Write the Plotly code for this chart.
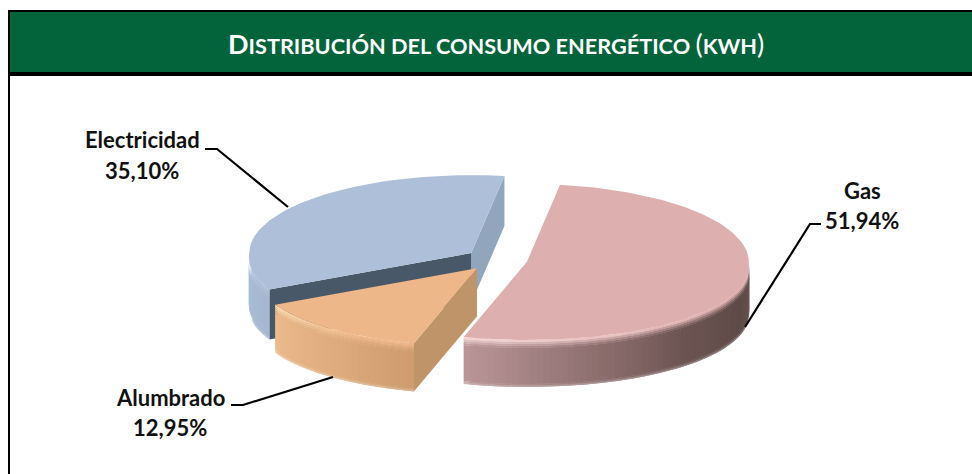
import math
import plotly.graph_objects as go

# ---- data ----
categories = ["Gas", "Alumbrado", "Electricidad"]
percentages = [51.94, 12.95, 35.10]
value_labels = ["51,94%", "12,95%", "35,10%"]
title_words = "Distribución del consumo energético (kWh)"

# ---- geometry of the 3D pie (pixel space of the page) ----
W, H = 972, 474
BASE_X, BASE_Y = 496.5, 259.6
RX, RY = 222.0, 78.0
PULL_X, PULL_Y = 31.0, 11.2
PERSPECTIVE = 0.06
DEPTHS = {"Gas": 47.0, "Alumbrado": 48.0, "Electricidad": 50.0}
FIRST_ANGLE = 8.6

TOP = {"Gas": (221, 175, 174), "Alumbrado": (238, 183, 137), "Electricidad": (174, 192, 217)}
SIDE = {
    "Gas": [(0.0, (186, 150, 152)), (0.25, (150, 118, 118)), (0.55, (108, 84, 82)), (0.8, (94, 74, 72)), (1.0, (104, 84, 80))],
    "Alumbrado": [(0.0, (236, 186, 140)), (0.5, (222, 172, 126)), (1.0, (205, 155, 110))],
    "Electricidad": [(0.0, (172, 190, 214)), (1.0, (166, 184, 208))],
}
HILITE = {"Gas": (244, 212, 212), "Alumbrado": (255, 222, 180), "Electricidad": (208, 222, 238)}
WALL_INNER = (72, 88, 104)
WALL_ELEC = (145, 165, 188)
WALL_ALUM = (190, 148, 104)


def rgb(c):
    return "rgb(%d,%d,%d)" % tuple(round(v) for v in c)


def mix(a, b, t):
    return tuple(a[i] + (b[i] - a[i]) * t for i in range(3))


def ramp(stops, t):
    for (t0, c0), (t1, c1) in zip(stops, stops[1:]):
        if t <= t1:
            return mix(c0, c1, (t - t0) / (t1 - t0))
    return stops[-1][1]


fig = go.Figure()


def poly(xs, ys, color):
    c = rgb(color)
    fig.add_trace(go.Scatter(x=list(xs) + [xs[0]], y=list(ys) + [ys[0]], mode="lines", fill="toself",
                             fillcolor=c, line=dict(width=0), hoverinfo="skip", showlegend=False))


def rim(cx, cy, deg):
    a = math.radians(deg)
    grow = 1 + PERSPECTIVE * max(0.0, -math.cos(a))
    return cx + RX * math.sin(a) * grow, cy - RY * math.cos(a)


def wall(cx, cy, deg, depth, color):
    x, y = rim(cx, cy, deg)
    poly([cx, x, x, cx], [cy, y, y + depth, cy + depth], color)


def side(cx, cy, a0, a1, name):
    """Outer cylinder wall between two angles; later strips overlap earlier ones so no seams show."""
    depth = DEPTHS[name]
    layers = [(0, 2, 0.0), (2, 4, 0.3), (4, 6, 0.6), (6, 8, 0.85), (8, depth - 3, 1.0), (depth - 3, depth - 1.5, 1.0), (depth - 1.5, depth, 1.0)]
    n = max(6, int(abs(a1 - a0) / 1.5))
    for i in range(n):
        d0 = a0 + (a1 - a0) * i / n
        d1 = a0 + (a1 - a0) * min(n, i + 2) / n
        dm = a0 + (a1 - a0) * (i + 1) / n
        x0, y0 = rim(cx, cy, d0)
        xm, ym = rim(cx, cy, dm)
        x1, y1 = rim(cx, cy, d1)
        base = ramp(SIDE[name], (i + 0.5) / n)
        fade = (i + 0.5) / n
        hi = mix(HILITE[name], TOP[name], min(1, fade * 1.5))
        for k in range(len(layers) - 1, -1, -1):
            z0, z1, t = layers[k]
            col = mix(hi, base, t)
            if k == 5:
                col = mix(base, (255, 255, 255), 0.06)
            if k == 6:
                col = mix(base, (255, 255, 255), 0.25)
            poly([x0, xm, x1, x1, xm, x0], [y0 + z0, ym + z0, y1 + z0, y1 + z1, ym + z1, y0 + z1], col)


def top(cx, cy, a0, a1, color):
    n = max(8, int(abs(a1 - a0) / 1.5))
    pts = [rim(cx, cy, a0 + (a1 - a0) * i / n) for i in range(n + 1)]
    poly([cx] + [p[0] for p in pts], [cy] + [p[1] for p in pts], color)


# angular extent of each slice comes from the percentages
total = sum(percentages)
angle = FIRST_ANGLE
spans = {}
centres = {}
for name, pct in zip(categories, percentages):
    sweep = 360.0 * pct / total
    mid = math.radians(angle + sweep / 2)
    spans[name] = (angle, angle + sweep)
    centres[name] = (BASE_X + PULL_X * math.sin(mid), BASE_Y - PULL_Y * math.cos(mid))
    angle += sweep

# Electricidad (rear)
e0, e1 = spans["Electricidad"]
cx, cy = centres["Electricidad"]
d = DEPTHS["Electricidad"]
wall(cx, cy, e1, d, WALL_ELEC)
wall(cx, cy, e0, d, WALL_INNER)
side(cx, cy, 270.0, e0, "Electricidad")
top(cx, cy, e0, e1, TOP["Electricidad"])

# Alumbrado
a0, a1 = spans["Alumbrado"]
cx, cy = centres["Alumbrado"]
side(cx, cy, a1, a0, "Alumbrado")
wall(cx, cy, a0, DEPTHS["Alumbrado"], WALL_ALUM)
top(cx, cy, a0, a1, TOP["Alumbrado"])

# Gas
g0, g1 = spans["Gas"]
cx, cy = centres["Gas"]
side(cx, cy, g1, 90.0, "Gas")
top(cx, cy, g0, g1, TOP["Gas"])

# ---- frame ----
shapes = [
    dict(type="rect", x0=8, x1=W, y0=10, y1=76, fillcolor="#000000", line_width=0, layer="below"),
    dict(type="rect", x0=8, x1=10, y0=10, y1=H, fillcolor="#000000", line_width=0, layer="below"),
    dict(type="rect", x0=10, x1=W, y0=12, y1=72, fillcolor="#03633A", line_width=0, layer="below"),
]
# ---- leader lines ----
leaders = [
    [(205, 149), (217, 149), (288, 207)],
    [(821, 224), (810, 224), (745, 327)],
    [(231, 405), (243, 405), (333, 377)],
]
for pts in leaders:
    path = "M" + " L".join("%g,%g" % p for p in pts)
    shapes.append(dict(type="path", path=path, line=dict(color="#000000", width=2.2), layer="above"))

FONT = "Lato"
label_pos = {"Electricidad": (142, 139, 170), "Gas": (862, 190, 220), "Alumbrado": (170, 397, 427)}
annotations = []
for name, lab in zip(categories, value_labels):
    x, y0, y1 = label_pos[name]
    for txt, y in ((name, y0), (lab, y1)):
        annotations.append(dict(x=x, y=y, xref="x", yref="y", showarrow=False,
                                text="<b>%s</b>" % txt,
                                font=dict(family=FONT, size=22, color="#111111")))


def small_caps(s, big=27, small=21.7):
    out = []
    for ch in s:
        if ch.isupper():
            out.append('<b><span style="font-size:%gpx">%s</span></b>' % (big, ch))
        elif ch in "()":
            out.append('<span style="font-size:%gpx">%s</span>' % (big, ch))
        else:
            out.append('<b><span style="font-size:%gpx">%s</span></b>' % (small, ch.upper()))
    return "".join(out)


title_text = small_caps(title_words.replace("kWh", "kwh"))
annotations.append(dict(x=496, y=43, xref="x", yref="y", showarrow=False,
                        text=title_text,
                        font=dict(family=FONT, size=21.7, color="#FFFFFF")))

fig.update_layout(
    width=W, height=H, margin=dict(l=0, r=0, t=0, b=0),
    paper_bgcolor="#FFFFFF", plot_bgcolor="#FFFFFF", showlegend=False,
    xaxis=dict(range=[0, W], visible=False, fixedrange=True),
    yaxis=dict(range=[H, 0], visible=False, fixedrange=True),
    shapes=shapes, annotations=annotations,
)
fig.write_html("out.html", config={"displayModeBar": False},
               post_script="document.body.style.margin='0';document.body.style.overflow='hidden';")
